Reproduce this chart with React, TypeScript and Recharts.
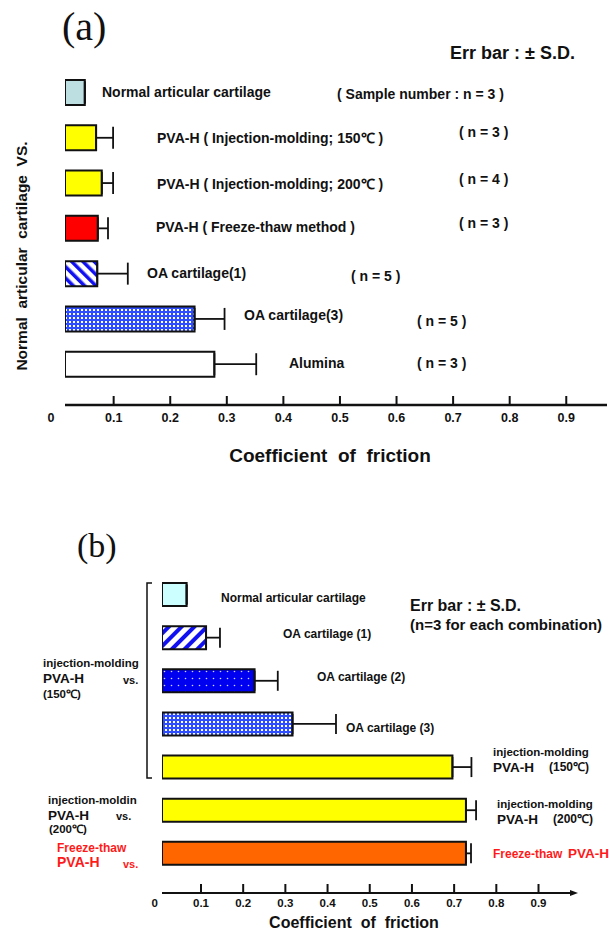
import React from 'react';
import { BarChart, Bar, XAxis, YAxis, Cell, ErrorBar, LabelList } from 'recharts';

const FONT = '"Liberation Sans", Arial, Helvetica, sans-serif';
const SERIF = '"Liberation Serif", "Times New Roman", serif';

// (a) counterface: normal articular cartilage
const aGroups = [
  'Normal articular cartilage',
  'PVA-H ( Injection-molding; 150℃ )',
  'PVA-H ( Injection-molding; 200℃ )',
  'PVA-H ( Freeze-thaw method )',
  'OA cartilage(1)',
  'OA cartilage(3)',
  'Alumina',
];
const aSamples = ['( Sample number : n = 3 )', '( n = 3 )', '( n = 4 )', '( n = 3 )', '( n = 5 )', '( n = 5 )', '( n = 3 )'];
const aMean = [0.049, 0.069, 0.079, 0.072, 0.071, 0.243, 0.278];
const aSD = [0, 0.03, 0.02, 0.018, 0.054, 0.053, 0.074];

// (b) PVA-H counterfaces vs. cartilage / PVA-H
const bGroups = ['Normal articular cartilage', 'OA cartilage (1)', 'OA cartilage (2)', 'OA cartilage (3)', 'injection-molding', 'injection-molding', 'Freeze-thaw'];
const bMaterial = ['', '', '', '', 'PVA-H', 'PVA-H', 'PVA-H'];
const bTemp = ['', '', '', '', '(150℃)', '(200℃)', ''];
const bMean = [0.066, 0.112, 0.227, 0.317, 0.696, 0.728, 0.728];
const bSD = [0, 0.033, 0.055, 0.103, 0.045, 0.024, 0.012];
const bCounterProcess = ['injection-molding', 'injection-moldin', 'Freeze-thaw'];
const bCounterTemp = ['(150℃)', '(200℃)', ''];

const frictionTicks = [0, 0.1, 0.2, 0.3, 0.4, 0.5, 0.6, 0.7, 0.8, 0.9];

const aData = aGroups.map((name, i) => ({ name, mean: aMean[i], err: [0, aSD[i]] }));
const bData = bGroups.map((name, i) => ({ name, mean: bMean[i], err: [0, bSD[i]] }));

// styling
const aFills = ['#BEDFE2', '#FFFF00', '#FFFF00', '#FF0000', 'url(#stripeA)', 'url(#checkA)', '#FFFFFF'];
const bFills = ['#CCFFFF', 'url(#stripeB)', 'url(#dotsB)', 'url(#checkB)', '#FFFF00', '#FFFF00', '#FF6600'];
const aNameX = [102, 157, 157, 156, 147, 244, 289];
const aNameDy = [0, 0, 1, -1, -1, -4, -1];
const aSampleX = [337, 459, 459, 459, 351, 417, 417];
const aSampleDy = [2, -6, -4, -5, 2, 2, -1];
const bNameX = [221, 283, 317, 346, 493, 497, 493];
const bNameDy = [3, -4, -4, 4, -15, -6, 0];
const RED = '#FF1A1A';

const txt = (size: number, color = '#111') => ({
  fontFamily: FONT,
  fontWeight: 700,
  fontSize: size,
  fill: color,
  whiteSpace: 'pre' as const,
});

const makeTick = (fontSize: number, zeroShift: number, dy: number) => (props: any) => {
  const { x, y, payload } = props;
  const v = payload.value;
  return (
    <g>
      {v > 0 && <line x1={x} x2={x} y1={y} y2={y - 9} stroke="#111" strokeWidth={2} />}
      <text x={x + (v === 0 ? zeroShift : 0)} y={y + dy} textAnchor="middle" style={txt(fontSize)}>
        {v === 0 ? '0' : v}
      </text>
    </g>
  );
};

const renderALabel = (props: any) => {
  const vb = props.viewBox ?? props;
  const i = props.index;
  const cy = vb.y + vb.height / 2;
  return (
    <g>
      <text x={aNameX[i]} y={cy + aNameDy[i]} dy="0.35em" style={txt(14)}>{aGroups[i]}</text>
      <text x={aSampleX[i]} y={cy + aSampleDy[i]} dy="0.35em" style={txt(14)}>{aSamples[i]}</text>
    </g>
  );
};

const renderBLabel = (props: any) => {
  const vb = props.viewBox ?? props;
  const i = props.index;
  const cy = vb.y + vb.height / 2;
  const x = bNameX[i];
  const y = cy + bNameDy[i];
  let right;
  if (i < 4) {
    right = <text x={x} y={y} dy="0.35em" style={txt(12)}>{bGroups[i]}</text>;
  } else if (i < 6) {
    right = (
      <g>
        <text x={x} y={y} dy="0.35em" style={txt(11.5)}>{bGroups[i]}</text>
        <text x={x} y={y + 15} dy="0.35em" style={txt(13.5)}>{bMaterial[i]}</text>
        <text x={x + 56} y={y + 15} dy="0.35em" style={txt(12)}>{bTemp[i]}</text>
      </g>
    );
  } else {
    right = (
      <g>
        <text x={x} y={y} dy="0.35em" style={txt(12, RED)}>{bGroups[i]}</text>
        <text x={x + 75} y={y} dy="0.35em" style={txt(13.5, RED)}>{bMaterial[i]}</text>
      </g>
    );
  }
  // counterface labels on the left for the two lower rows
  let left = null;
  if (i === 5) {
    left = (
      <g>
        <text x={48} y={cy - 10} dy="0.35em" style={txt(11.5)}>{bCounterProcess[1]}</text>
        <text x={48} y={cy + 5} dy="0.35em" style={txt(13.5)}>PVA-H</text>
        <text x={116} y={cy + 6} dy="0.35em" style={txt(11)}>vs.</text>
        <text x={49} y={cy + 19} dy="0.35em" style={txt(11.5)}>{bCounterTemp[1]}</text>
      </g>
    );
  } else if (i === 6) {
    left = (
      <g>
        <text x={57} y={cy - 6} dy="0.35em" style={txt(12, RED)}>{bCounterProcess[2]}</text>
        <text x={57} y={cy + 9} dy="0.35em" style={txt(14, RED)}>PVA-H</text>
        <text x={123} y={cy + 11} dy="0.35em" style={txt(11, RED)}>vs.</text>
      </g>
    );
  }
  return (
    <g>
      {right}
      {left}
    </g>
  );
};

export default function App() {
  return (
    <div style={{ position: 'absolute', left: 0, top: 0, width: 609, height: 930, background: '#fff' }}>
      <div style={{ position: 'absolute', left: 0, top: 0 }}>
        <BarChart
          width={609}
          height={470}
          data={aData}
          layout="vertical"
          margin={{ top: 68, right: 2, bottom: 35, left: 65 }}
        >
          <defs>
            <pattern id="stripeA" patternUnits="userSpaceOnUse" width="8" height="8" patternTransform="rotate(-45)">
              <rect width="8" height="8" fill="#fff" />
              <rect width="3.5" height="8" fill="#1010F0" />
            </pattern>
            <pattern id="checkA" patternUnits="userSpaceOnUse" width="4" height="4">
              <rect width="4" height="4" fill="#2E4DFF" />
              <rect x="1" y="1" width="2" height="2" fill="#fff" />
            </pattern>
          </defs>
          <XAxis
            type="number"
            domain={[0.014, 0.972]}
            allowDataOverflow
            ticks={frictionTicks}
            interval={0}
            tickSize={0}
            tickMargin={0}
            tickLine={false}
            axisLine={{ stroke: '#111', strokeWidth: 2.5 }}
            tick={makeTick(12.5, -6, 17)}
          />
          <YAxis
            type="category"
            width={0}
            tick={false}
            tickLine={false}
            axisLine={{ stroke: '#111', strokeWidth: 3 }}
            padding={{ top: 2, bottom: 18 }}
          />
          <Bar dataKey="mean" barSize={25} stroke="#111" strokeWidth={2} isAnimationActive={false}>
            {aData.map((d, i) => (
              <Cell key={d.name} fill={aFills[i]} />
            ))}
            <ErrorBar dataKey="err" direction="x" width={11} stroke="#111" strokeWidth={1.8} />
            <LabelList dataKey="mean" content={renderALabel} />
          </Bar>
          <text x={62} y={40} style={{ fontFamily: SERIF, fontSize: 40, fill: '#111' }}>(a)</text>
          <text x={450} y={53} dy="0.35em" style={txt(18)}>Err bar : ± S.D.</text>
          <text
            transform="translate(22,256) rotate(-90)"
            textAnchor="middle"
            dy="0.35em"
            style={txt(15.5)}
          >
            {'Normal  articular  cartilage  VS.'}
          </text>
          <text x={330} y={455} textAnchor="middle" dy="0.35em" style={txt(19)}>
            {'Coefficient  of  friction'}
          </text>
        </BarChart>
      </div>

      <div style={{ position: 'absolute', left: 0, top: 500 }}>
        <BarChart
          width={609}
          height={430}
          data={bData}
          layout="vertical"
          margin={{ top: 73, right: 38, bottom: 7, left: 162 }}
        >
          <defs>
            <pattern id="stripeB" patternUnits="userSpaceOnUse" width="9" height="9" patternTransform="rotate(45)">
              <rect width="9" height="9" fill="#fff" />
              <rect width="4" height="9" fill="#1010F0" />
            </pattern>
            <pattern id="dotsB" patternUnits="userSpaceOnUse" width="7" height="7">
              <rect width="7" height="7" fill="#0000F0" />
              <circle cx="3.5" cy="3.5" r="0.8" fill="#cfd6ff" />
            </pattern>
            <pattern id="checkB" patternUnits="userSpaceOnUse" width="4" height="4">
              <rect width="4" height="4" fill="#2E4DFF" />
              <rect x="1" y="1" width="2" height="2" fill="#fff" />
            </pattern>
            <marker id="arrowB" markerWidth="9" markerHeight="8" refX="1" refY="4" orient="auto" markerUnits="userSpaceOnUse">
              <path d="M0,1 L8,4 L0,7 z" fill="#111" />
            </marker>
          </defs>
          <XAxis
            type="number"
            domain={[0.0076, 0.977]}
            allowDataOverflow
            ticks={frictionTicks}
            interval={0}
            tickSize={0}
            tickMargin={0}
            tickLine={false}
            axisLine={{ stroke: '#111', strokeWidth: 2, markerEnd: 'url(#arrowB)' }}
            tick={makeTick(11.5, -4, 14)}
          />
          <YAxis
            type="category"
            width={0}
            tick={false}
            tickLine={false}
            axisLine={{ stroke: '#111', strokeWidth: 2.5 }}
            padding={{ top: 0, bottom: 18 }}
          />
          <Bar dataKey="mean" barSize={23} stroke="#111" strokeWidth={2} isAnimationActive={false}>
            {bData.map((d, i) => (
              <Cell key={i} fill={bFills[i]} />
            ))}
            <ErrorBar dataKey="err" direction="x" width={10} stroke="#111" strokeWidth={1.8} />
            <LabelList dataKey="mean" content={renderBLabel} />
          </Bar>
          <text x={77} y={57} style={{ fontFamily: SERIF, fontSize: 34, fill: '#111' }}>(b)</text>
          <text x={410} y={105} dy="0.35em" style={txt(16)}>Err bar : ± S.D.</text>
          <text x={410} y={124.5} dy="0.35em" style={txt(15)}>(n=3 for each combination)</text>
          <path d="M152,83 L147,83 L147,278 L152,278" fill="none" stroke="#111" strokeWidth={1.5} />
          <text x={43} y={163} dy="0.35em" style={txt(11.5)}>{bCounterProcess[0]}</text>
          <text x={43} y={178} dy="0.35em" style={txt(13.5)}>PVA-H</text>
          <text x={123} y={180} dy="0.35em" style={txt(11)}>vs.</text>
          <text x={43} y={193.5} dy="0.35em" style={txt(11.5)}>{bCounterTemp[0]}</text>
          <text x={354} y={422.5} textAnchor="middle" dy="0.35em" style={txt(16)}>
            {'Coefficient  of  friction'}
          </text>
        </BarChart>
      </div>
    </div>
  );
}
